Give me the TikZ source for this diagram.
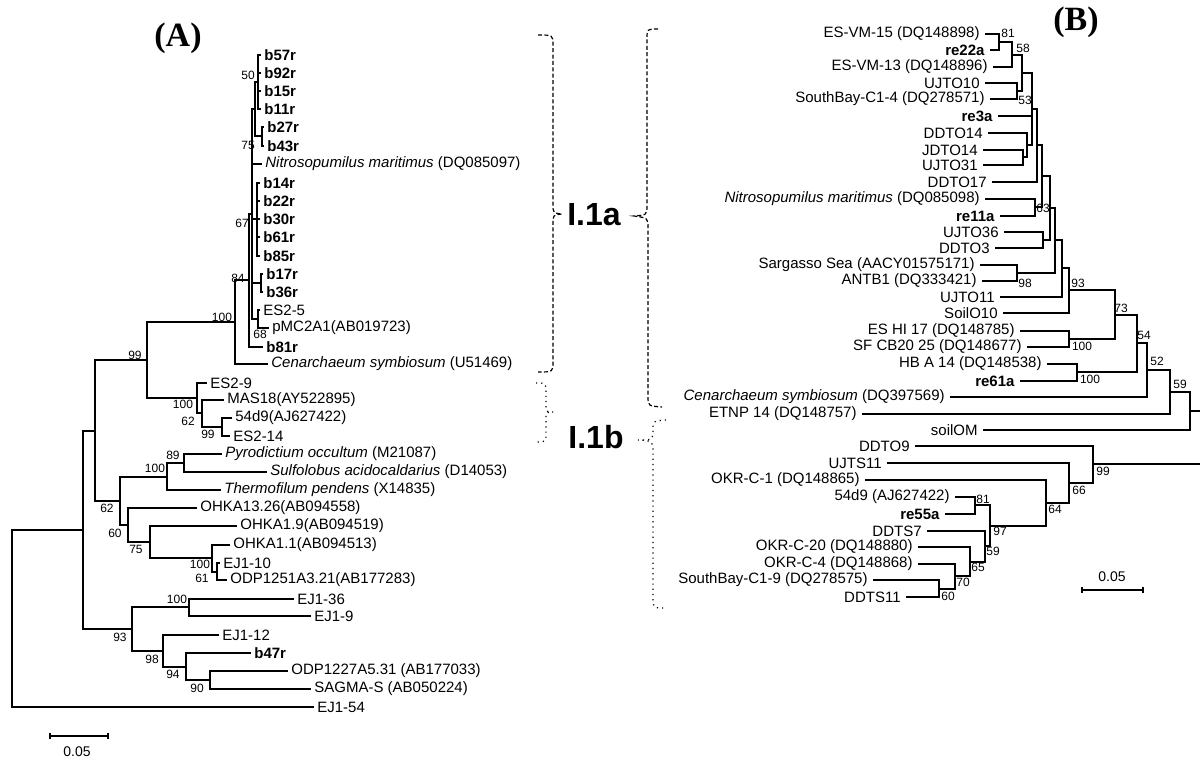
\documentclass[tikz,border=0pt]{standalone}
\usepackage{fontspec}
\setmainfont{Liberation Sans}
\newfontfamily\serifpanel{Liberation Serif}
\usetikzlibrary{calc}

\tikzset{
  br/.style={line width=0.7pt},
  taxa/.style={anchor=west, inner sep=1.5pt, font=\fontsize{7.5}{8}\selectfont},
  taxb/.style={anchor=east, inner sep=2.5pt, font=\fontsize{7.5}{8}\selectfont},
  boot/.style={inner sep=0pt, font=\fontsize{6}{7}\selectfont},
  clade/.style={inner sep=0pt, font=\fontsize{16}{18}\selectfont\bfseries},
  panel/.style={inner sep=0pt, font=\serifpanel\fontsize{17}{19}\selectfont\bfseries},
  brdash/.style={line width=0.6pt, dash pattern=on 2pt off 1.2pt},
  brdot/.style={line width=0.6pt, dotted},
}

\begin{document}
\begin{tikzpicture}[x=0.5pt,y=-0.5pt]
    \useasboundingbox (0,0) rectangle (1200,763);
    % panel titles
    \node[panel] (titA) at (178,38) {(A)};
    \node[panel] (titB) at (1076,22) {(B)};

    % tree A: leaves
    \foreach \n/\x/\y/\t in {
      lb57r/261/55/\textbf{b57r}, lb92r/261/73/\textbf{b92r},
      lb15r/261/91/\textbf{b15r}, lb11r/261/109/\textbf{b11r},
      lb27r/264/127/\textbf{b27r}, lb43r/264/146/\textbf{b43r},
      lNmA/262/164/{\textit{Nitrosopumilus maritimus} (DQ085097)},
      lb14r/260/183/\textbf{b14r}, lb22r/260/201/\textbf{b22r},
      lb30r/260/219/\textbf{b30r}, lb61r/260/237/\textbf{b61r},
      lb85r/260/256/\textbf{b85r}, lb17r/263/274/\textbf{b17r},
      lb36r/263/292/\textbf{b36r}, lES25/260/310/ES2-5,
      lpMC/269/328/pMC2A1(AB019723), lb81r/263/347/\textbf{b81r},
      lCsA/268/364/{\textit{Cenarchaeum symbiosum} (U51469)},
      lES29/207/383/ES2-9, lMAS/224/400/MAS18(AY522895),
      l54A/232/418/54d9(AJ627422), lES214/230/436/ES2-14,
      lPyr/222/454/{\textit{Pyrodictium occultum} (M21087)},
      lSul/267/472/{\textit{Sulfolobus acidocaldarius} (D14053)},
      lThe/221/490/{\textit{Thermofilum pendens} (X14835)},
      lOH1326/197/508/OHKA13.26(AB094558), lOH19/237/526/OHKA1.9(AB094519),
      lOH11/230/545/OHKA1.1(AB094513), lEJ110/220/563/EJ1-10,
      lODP1251/227/580/ODP1251A3.21(AB177283),
      lEJ136/294/599/EJ1-36, lEJ19/311/616/EJ1-9,
      lEJ112/219/635/EJ1-12, lb47r/251/653/\textbf{b47r},
      lODP1227/288/671/ODP1227A5.31 (AB177033),
      lSAG/311/689/SAGMA-S (AB050224), lEJ154/314/707/EJ1-54}
      \node[taxa] (\n) at (\x,\y) {\t};

    % tree A: inner nodes
    \foreach \n/\x/\y in {R/12/618, A/83/530, B/95/431, C93/132/629, D99/147/360,
      E62/120/501, F100/235/322, G100/197/398, H62/202/413, I99/222/427,
      J84/249/280, K67/252/214, L75/255/109, P50/258/82, P2743/262/136,
      G14/257/219, P1736/261/283, N68/258/319, T100/167/477, P89/184/463,
      N60/128/525, N75/150/542, H100/212/558, I61/217/572, N100c/189/607,
      N98/163/651, N94/186/667, N90/210/680}
      \coordinate (\n) at (\x,\y);

    \foreach \p/\c in {R/A, R/lEJ154.west, A/B, A/C93, B/D99, B/E62,
      D99/F100, D99/G100, F100/J84, F100/lCsA.west, J84/K67, J84/lb81r.west,
      K67/L75, K67/lNmA.west, K67/G14, K67/P1736, K67/N68, L75/P50, L75/P2743,
      P50/lb57r.west, P50/lb92r.west, P50/lb15r.west, P50/lb11r.west,
      P2743/lb27r.west, P2743/lb43r.west, G14/lb14r.west, G14/lb22r.west,
      G14/lb30r.west, G14/lb61r.west, G14/lb85r.west, P1736/lb17r.west,
      P1736/lb36r.west, N68/lES25.west, N68/lpMC.west, G100/lES29.west,
      G100/H62, H62/lMAS.west, H62/I99, I99/l54A.west, I99/lES214.west,
      E62/T100, E62/N60, T100/P89, T100/lThe.west, P89/lPyr.west,
      P89/lSul.west, N60/lOH1326.west, N60/N75, N75/lOH19.west, N75/H100,
      H100/lOH11.west, H100/I61, I61/lEJ110.west, I61/lODP1251.west,
      C93/N100c, C93/N98, N100c/lEJ136.west, N100c/lEJ19.west,
      N98/lEJ112.west, N98/N94, N94/lb47r.west, N94/N90,
      N90/lODP1227.west, N90/lSAG.west}
      \draw[br] (\p) |- (\c);

    % tree A: bootstrap values
    \foreach \n/\x/\y/\v in {a1/248/75/50, a2/248/145/75, a3/242/223/67,
      a4/238/278/84, a5/222/317/100, a6/260/334/68, a7/135/355/99,
      a8/183/404/100, a9/188/421/62, a10/208/434/99, a11/173/455/89,
      a12/155/468/100, a13/107/508/62, a14/115/533/60, a15/136/549/75,
      a16/200/564/100, a17/202/578/61, a18/177/599/100, a19/120/637/93,
      a20/152/659/98, a21/173/674/94, a22/197/688/90}
      \node[boot] (bs\n) at (\x,\y) {\v};

    % tree A: scale bar
    \coordinate (sA1) at (50,736);
    \coordinate (sA2) at (108,736);
    \draw[br] (sA1) -- (sA2);
    \draw[br] ($(sA1)+(0,-3)$) -- ($(sA1)+(0,3)$);
    \draw[br] ($(sA2)+(0,-3)$) -- ($(sA2)+(0,3)$);
    \node[boot, font=\fontsize{7}{8}\selectfont] (sclA) at (77,752) {0.05};

    % clade braces and labels
    \node[clade] (c1a) at (594,215) {I.1a};
    \node[clade] (c1b) at (596,437) {I.1b};
    \draw[brdash] (538,35) .. controls (553,35) .. (553,45) -- (553,204)
      .. controls (553,213) .. (562,214) .. controls (553,215) .. (553,224)
      -- (553,362) .. controls (553,372) .. (538,372);
    \draw[brdot] (536,383) .. controls (546,383) .. (546,392) -- (546,405)
      .. controls (546,412) .. (553,412) .. controls (546,412) .. (546,419)
      -- (546,433) .. controls (546,442) .. (536,442);
    \draw[brdash] (658,29) .. controls (647,29) .. (647,39) -- (647,205)
      .. controls (647,215) .. (634,216) .. controls (648,218) .. (648,228)
      -- (648,396) .. controls (648,406) .. (662,407);
    \draw[brdot] (666,420) .. controls (653,421) .. (653,430)
      .. controls (653,440) .. (638,440) .. controls (653,441) .. (653,452)
      -- (653,598) .. controls (653,608) .. (665,608);

    % tree B: leaves
    \foreach \n/\x/\y/\t in {
      rESVM15/985/34/ES-VM-15 (DQ148898), rre22a/990/50/\textbf{re22a},
      rESVM13/993/67/ES-VM-13 (DQ148896), rUJTO10/985/83/UJTO10,
      rSB14/990/99/SouthBay-C1-4 (DQ278571), rre3a/998/116/\textbf{re3a},
      rDDTO14/988/133/DDTO14, rJDTO14/983/150/JDTO14,
      rUJTO31/983/165/UJTO31, rDDTO17/992/182/DDTO17,
      rNmB/985/199/{\textit{Nitrosopumilus maritimus} (DQ085098)},
      rre11a/1000/216/\textbf{re11a}, rUJTO36/1004/232/UJTO36,
      rDDTO3/995/248/DDTO3, rSarg/980/265/Sargasso Sea (AACY01575171),
      rANTB1/982/281/ANTB1 (DQ333421), rUJTO11/1000/297/UJTO11,
      rSoilO10/1003/313/SoilO10, rESHI/1020/331/ES HI 17 (DQ148785),
      rSFCB/1027/347/SF CB20 25 (DQ148677), rHBA/1047/364/HB A 14 (DQ148538),
      rre61a/1020/381/\textbf{re61a},
      rCsB/950/397/{\textit{Cenarchaeum symbiosum} (DQ397569)},
      rETNP/862/414/ETNP 14 (DQ148757), rsoilOM/983/430/soilOM,
      rDDTO9/915/446/DDTO9, rUJTS11/887/463/UJTS11,
      rOKRC1/865/480/OKR-C-1 (DQ148865), r54d9/955/497/54d9 (AJ627422),
      rre55a/945/514/\textbf{re55a}, rDDTS7/927/531/DDTS7,
      rOKRC20/918/547/OKR-C-20 (DQ148880), rOKRC4/918/564/OKR-C-4 (DQ148868),
      rSB19/873/580/SouthBay-C1-9 (DQ278575), rDDTS11/906/597/DDTS11}
      \node[taxb] (\n) at (\x,\y) {\t};

    % tree B: inner nodes
    \foreach \n/\x/\y in {b81/999/42, b58/1012/55, b53/1017/91, bA1/1022/73,
      bJU/1023/157, bD14/1027/145, bA2/1032/109, bA3/1037/145, b63/1035/207,
      bA4/1042/176, bUD/1043/240, bA5/1050/208, b98/1017/273, bA6/1055/240,
      bA7/1062/268, b93/1069/290, b100a/1069/339, b73/1115/315,
      b100b/1077/372, b54/1137/343, b52/1147/370, b59/1170/392,
      bTop/1190/411, bEdge1/1200/411, b60/939/589, b70/955/576,
      b65/970/562, b59b/985/546, b81b/975/505, b97/990/526, b64/1046/503,
      b66/1069/483, b99/1093/464, bEdge2/1200/464}
      \coordinate (\n) at (\x,\y);

    \foreach \p/\c in {b81/rESVM15.east, b81/rre22a.east, b58/b81,
      b58/rESVM13.east, b53/rUJTO10.east, b53/rSB14.east, bA1/b58, bA1/b53,
      bJU/rJDTO14.east, bJU/rUJTO31.east, bD14/rDDTO14.east, bD14/bJU,
      bA2/bA1, bA2/rre3a.east, bA2/bD14, bA3/bA2, bA3/rDDTO17.east,
      b63/rNmB.east, b63/rre11a.east, bA4/bA3, bA4/b63, bUD/rUJTO36.east,
      bUD/rDDTO3.east, bA5/bA4, bA5/bUD, b98/rSarg.east, b98/rANTB1.east,
      bA6/bA5, bA6/b98, bA7/bA6, bA7/rUJTO11.east, b93/bA7,
      b93/rSoilO10.east, b100a/rESHI.east, b100a/rSFCB.east, b73/b93,
      b73/b100a, b100b/rHBA.east, b100b/rre61a.east, b54/b73, b54/b100b,
      b52/b54, b52/rCsB.east, b59/b52, b59/rETNP.east, bTop/b59,
      bTop/rsoilOM.east, b60/rSB19.east, b60/rDDTS11.east, b70/rOKRC4.east,
      b70/b60, b65/rOKRC20.east, b65/b70, b59b/rDDTS7.east, b59b/b65,
      b81b/r54d9.east, b81b/rre55a.east, b97/b81b, b97/b59b,
      b64/rOKRC1.east, b64/b97, b66/rUJTS11.east, b66/b64,
      b99/rDDTO9.east, b99/b66}
      \draw[br] (\p) |- (\c);
    \draw[br] (bTop) -- (bEdge1);
    \draw[br] (b99) -- (bEdge2);

    % tree B: bootstrap values
    \foreach \n/\x/\y/\v in {b1/1008/33/81, b2/1023/48/58, b3/1025/100/53,
      b4/1043/208/63, b5/1025/283/98, b6/1078/283/93, b7/1121/308/73,
      b8/1082/346/100, b9/1090/379/100, b10/1144/335/54, b11/1157/361/52,
      b12/1180/384/59, b13/1103/471/99, b14/1079/490/66, b15/1055/509/64,
      b16/983/499/81, b17/1000/531/97, b18/993/551/59, b19/978/567/65,
      b20/963/582/70, b21/948/596/60}
      \node[boot] (bs\n) at (\x,\y) {\v};

    % tree B: scale bar
    \coordinate (sB1) at (1082,590);
    \coordinate (sB2) at (1143,590);
    \draw[br] (sB1) -- (sB2);
    \draw[br] ($(sB1)+(0,-3)$) -- ($(sB1)+(0,3)$);
    \draw[br] ($(sB2)+(0,-3)$) -- ($(sB2)+(0,3)$);
    \node[boot, font=\fontsize{7}{8}\selectfont] (sclB) at (1112,577) {0.05};
\end{tikzpicture}
\end{document}
